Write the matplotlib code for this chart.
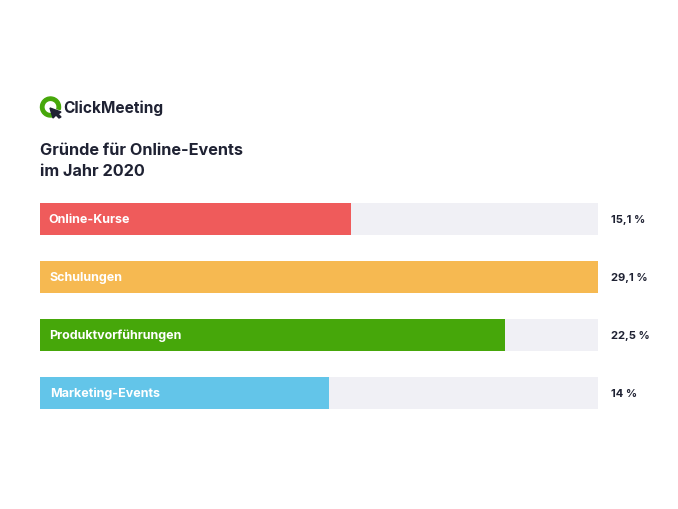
import matplotlib
matplotlib.use("Agg")
import matplotlib.pyplot as plt
from matplotlib.patches import Wedge, Polygon

categories = ["Online-Kurse", "Schulungen", "Produktvorführungen", "Marketing-Events"]
# bar lengths as drawn in the picture (share of the track), they don't follow the labels
bar_lengths = [55.7, 100, 83.3, 51.8]
value_labels = ["15,1 %", "29,1 %", "22,5 %", "14 %"]
colors = ["#EF5B5B", "#F6B951", "#46A70A", "#63C5E9"]
label_x = [48.5, 49.5, 49.5, 50]

W, H = 678, 509
plt.rcParams["font.family"] = "Inter"

fig = plt.figure(figsize=(W / 100, H / 100), dpi=100)
ax = fig.add_axes([40 / W, 1 - 409 / H, 558 / W, 206 / H])

ypos = list(range(len(categories)))
ax.barh(ypos, [100] * len(ypos), height=32 / 58, color="#F0F0F5")
ax.barh(ypos, bar_lengths, height=32 / 58, color=colors)
ax.set_xlim(0, 100)
ax.set_ylim(3 + 16 / 58, -16 / 58)
ax.axis("off")

for i, y in enumerate(ypos):
    x = (label_x[i] - 40) / 558 * 100
    ax.text(x, y + 0.015, categories[i], color="white", fontsize=9, fontweight="bold", va="center")
    ax.text(102.3, y + 0.015, value_labels[i], color="#1F2233", fontsize=8, fontweight="bold", va="center")

# title
fig.text(40 / W, 1 - 151 / H, "Gründe für Online-Events", color="#1F2233", fontsize=11.7, fontweight="bold", va="center")
fig.text(40 / W, 1 - 171 / H, "im Jahr 2020", color="#1F2233", fontsize=11.7, fontweight="bold", va="center")

# logo drawn in pixel coordinates
logo = fig.add_axes([0, 0, 1, 1], facecolor="none")
logo.set_xlim(0, W)
logo.set_ylim(H, 0)
logo.axis("off")
logo.add_patch(Wedge((50.5, 107), 10, 75, 375, width=3.4, color="#46A70A"))
logo.add_patch(Polygon([(50, 108), (61, 112), (58, 114), (61, 117), (59, 118), (56, 115), (53, 118)], color="#1F2233"))
logo.text(63.5, 108, "ClickMeeting", color="#1F2233", fontsize=11.1, fontweight="bold", va="center")

fig.savefig("out.png", dpi=100)
